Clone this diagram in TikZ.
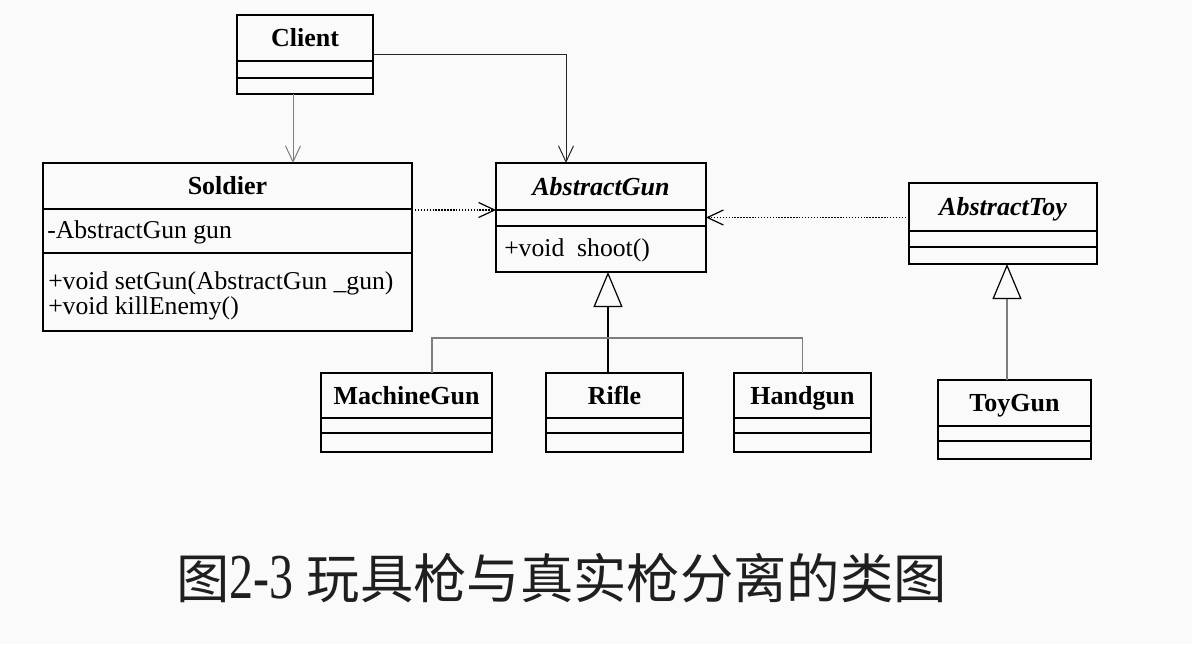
\documentclass[tikz,border=0pt]{standalone}
\usepackage{fontspec}
\setmainfont{Liberation Serif}
\newfontfamily\cjk{Noto Sans CJK SC}
\usetikzlibrary{arrows.meta}

\newlength{\du}
\setlength{\du}{0.75pt}

\definecolor{paper}{RGB}{250,250,250}
\definecolor{linkgray}{RGB}{125,125,125}

\newcommand{\namefont}{\fontsize{19.5}{22}\selectfont\bfseries}
\newcommand{\memberfont}{\fontsize{19.25}{17.25}\selectfont}

\tikzset{
  classbox/.style={draw=black, line width=0.85pt, inner sep=0pt, outer sep=0pt, anchor=north west},
  classline/.style={draw=black, line width=0.85pt},
  classname/.style={font=\namefont, inner sep=0pt, text height=13.3pt, text depth=0pt},
  member/.style={font=\memberfont, anchor=west, inner sep=0pt, align=left},
  assoc/.style={line width=0.75pt, -{Straight Barb[length=12pt,width=11.25pt]}},
  depend/.style={assoc, line width=0.9pt, dash pattern=on 1.1pt off 1.1pt},
  inherit/.style={line width=0.9pt, draw=linkgray, -{Triangle[open, length=26.25pt, width=21.75pt, color=black]}},
  genline/.style={line width=0.9pt, draw=linkgray},
}

% name, left, top, right, first rule, second rule, bottom, title
\newcommand{\umlclass}[8]{%
  \node[classbox, minimum width={(#4-#2)*\du}, minimum height={(#7-#3)*\du}] (#1) at (#2\du,#3\du) {};
  \coordinate (#1-div) at (#2\du,#5\du);
  \draw[classline] (#2\du,#5\du) -- (#4\du,#5\du);
  \draw[classline] (#2\du,#6\du) -- (#4\du,#6\du);
  \node[classname] (#1-name) at ({(#2+#4)/2*\du},{(#3+#5)/2*\du}) {#8};
}

\begin{document}
\begin{tikzpicture}
\pgftransformxscale{1.000000}
\pgftransformyscale{-1.000000}
\fill[paper] (0,0) rectangle (1192\du,644\du);
\useasboundingbox (0,0) rectangle (1192\du,644\du);

% classes
\umlclass{client}{237}{15}{373}{61}{78}{94}{Client}
\umlclass{soldier}{43}{163}{412}{209}{253}{331}{Soldier}
\umlclass{agun}{496}{163}{706}{210}{226}{272}{\itshape AbstractGun}
\umlclass{atoy}{909}{183}{1097}{231}{247}{264}{\itshape AbstractToy}
\umlclass{mgun}{321}{373}{492}{418}{433}{452}{MachineGun}
\umlclass{rifle}{546}{373}{683}{418}{433}{452}{Rifle}
\umlclass{handgun}{734}{373}{871}{418}{433}{452}{Handgun}
\umlclass{toygun}{938}{380}{1091}{426}{441}{459}{ToyGun}

% members
\node[member] (soldier-attr) at (47\du,232\du) {-AbstractGun gun};
\node[member] (soldier-ops) at (48\du,296\du) {+void setGun(AbstractGun \_gun)\\+void killEnemy()};
\node[member] (agun-ops) at (504\du,250\du) {+void~ shoot()};

% associations
\coordinate (clientfoot) at (293\du,94\du);
\coordinate (gunhook) at (566\du,163\du);
\draw[assoc, draw=linkgray] (clientfoot) -- (clientfoot |- soldier.north);
\draw[assoc, draw=black!85] (client.east) -| (gunhook);

% dependencies
\draw[depend] (soldier.east |- agun-div) -- (agun-div);
\draw[depend] (atoy.west |- agun.east) -- (agun.east);

% generalizations
\coordinate (gunjoin) at (608\du,338\du);
\coordinate (mgunjoin) at (432\du,338\du);
\coordinate (toyjoin) at (1007\du,330\du);
\draw[inherit, draw=black] (rifle.north -| gunjoin) -- (agun.south -| gunjoin);
\draw[genline] (mgun.north -| mgunjoin) -- (mgunjoin) -| (handgun.north);
\draw[inherit] (toygun.north -| toyjoin) -- (atoy.south -| toyjoin);

% caption
\node[anchor=west, inner sep=0pt, font=\fontsize{40}{44}\selectfont, text=black!88] (caption) at (176\du,578\du)
  {{\cjk 图}\scalebox{0.9}[1.2]{2-3} {\cjk 玩具枪与真实枪分离的类图}};
\end{tikzpicture}
\end{document}
